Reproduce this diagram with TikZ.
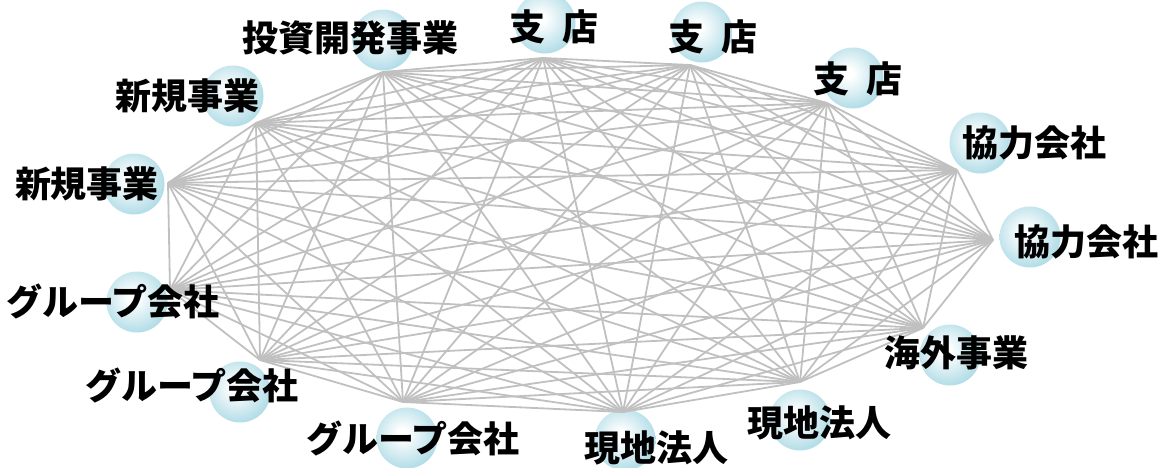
\documentclass[tikz,border=0pt]{standalone}
\usepackage{fontspec}
\newfontfamily\cjk{Noto Sans CJK JP}[BoldFont={Noto Sans CJK JP Black}]
\definecolor{ballblue}{RGB}{165,215,227}
\definecolor{linkgray}{RGB}{192,192,192}
\pgfdeclareradialshading{orb}{\pgfpoint{-4bp}{4bp}}{color(0bp)=(white); color(4bp)=(white); color(32bp)=(ballblue); color(100bp)=(ballblue)}
\tikzset{
  orbnode/.style={circle, minimum size=61pt, inner sep=0pt, shading=orb, draw=none},
  lbl/.style={font=\cjk\bfseries\fontsize{36}{40}\selectfont, inner sep=0pt, text=black},
  link/.style={draw=linkgray, line width=1.8pt}
}
\newcommand{\gap}{\hspace{0.45em}}
\begin{document}
\begin{tikzpicture}[x=1pt,y=-1pt]
\useasboundingbox (0,0) rectangle (1173,467);
% circles
\foreach \n/\x/\y in {1/233/96, 2/134/184, 3/137/302, 4/240/392, 5/407/438, 6/625/440, 7/800/420, 8/950/355, 9/1030/237, 10/980/143, 11/853/78, 12/702/32, 13/545/23, 14/383/40}
  \node[orbnode] (c\n) at (\x,\y) {};
% hubs
\foreach \n/\x/\y in {1/256/123, 2/168/183, 3/170/290, 4/260/360, 5/403/402, 6/623/412, 7/800/382, 8/923/328, 9/993/240, 10/957/170, 11/827/103, 12/690/65, 13/543/58, 14/383/72}
  \coordinate (h\n) at (\x,\y);
% links: complete graph
\foreach \i in {1,...,13}{
  \pgfmathtruncatemacro{\s}{\i+1}
  \foreach \j in {\s,...,14}{
    \draw[link] (h\i) -- (h\j);
  }
}
% labels
\node[lbl] (t1) at (187,96) {新規事業};
\node[lbl] (t2) at (87,184) {新規事業};
\node[lbl] (t3) at (113,301) {グループ会社};
\node[lbl] (t4) at (192,385) {グループ会社};
\node[lbl] (t5) at (413,438) {グループ会社};
\node[lbl] (t6) at (656,448) {現地法人};
\node[lbl] (t7) at (819,423) {現地法人};
\node[lbl] (t8) at (956,353) {海外事業};
\node[lbl] (t9) at (1086,242) {協力会社};
\node[lbl] (t10) at (1034,143) {協力会社};
\node[lbl] (t11) at (858,79) {支\gap 店};
\node[lbl] (t12) at (713,37) {支\gap 店};
\node[lbl] (t13) at (554,27) {支\gap 店};
\node[lbl] (t14) at (350,38) {投資開発事業};
\end{tikzpicture}
\end{document}
